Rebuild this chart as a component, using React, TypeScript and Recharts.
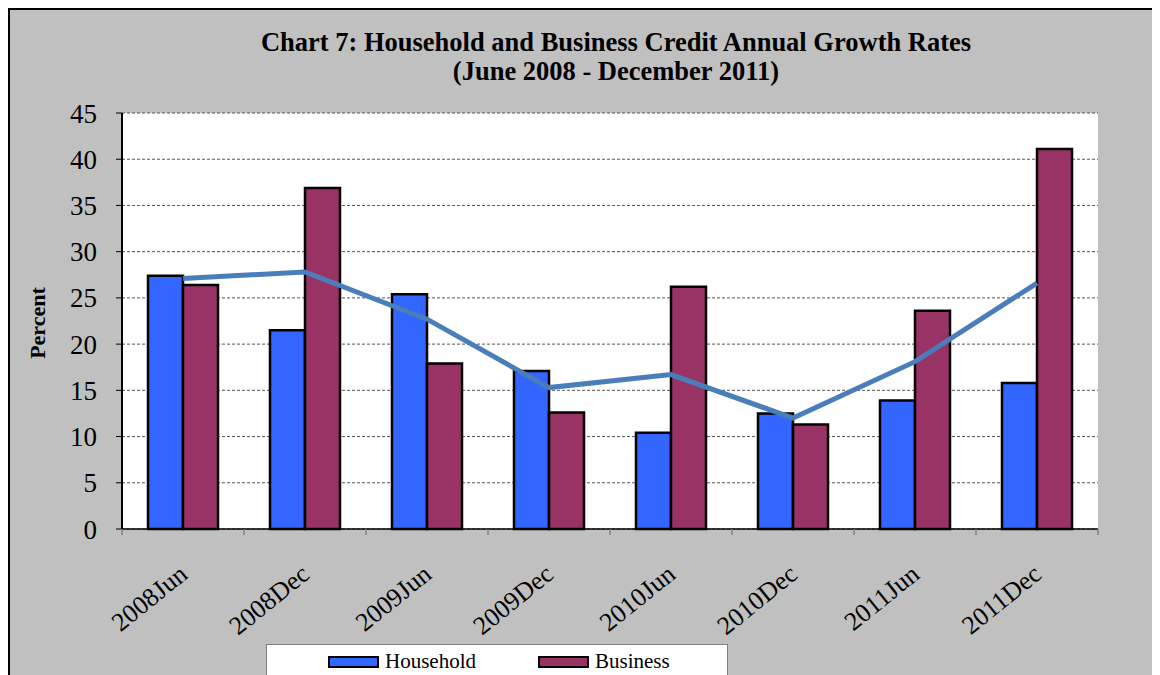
import React from 'react';
import {
  ComposedChart,
  Bar,
  Line,
  XAxis,
  YAxis,
  CartesianGrid,
  Legend,
  Label,
} from 'recharts';

const periods = ['2008Jun', '2008Dec', '2009Jun', '2009Dec', '2010Jun', '2010Dec', '2011Jun', '2011Dec'];
const household = [27.4, 21.5, 25.4, 17.1, 10.4, 12.5, 13.9, 15.8];
const business = [26.4, 36.9, 17.9, 12.6, 26.2, 11.3, 23.6, 41.1];
const trend = [27.1, 27.8, 22.7, 15.3, 16.7, 12.0, 18.1, 26.6];
const yTicks = [0, 5, 10, 15, 20, 25, 30, 35, 40, 45];
const legendOrder = ['household', 'business'];

const FONT = '"Liberation Serif", "Times New Roman", serif';
const HOUSEHOLD_COLOR = '#3366FF';
const BUSINESS_COLOR = '#993366';
const TREND_COLOR = '#4A7EBB';

const data = periods.map((p, i) => ({
  period: p,
  household: household[i],
  business: business[i],
  trend: trend[i],
}));

function XTick(props: any) {
  const { x, y, payload, index } = props;
  const half = payload?.offset ?? 61;
  const last = index === periods.length - 1;
  return (
    <g>
      <line x1={x - half} y1={y} x2={x - half} y2={y + 6} stroke="#808080" strokeWidth={1.5} />
      {last && <line x1={x + half} y1={y} x2={x + half} y2={y + 6} stroke="#808080" strokeWidth={1.5} />}
      <text
        x={x + 6}
        y={y + 48}
        textAnchor="end"
        fontSize={26}
        fontFamily={FONT}
        fill="#000"
        transform={`rotate(-39, ${x + 6}, ${y + 48})`}
      >
        {payload.value}
      </text>
    </g>
  );
}

function LegendBox(props: any) {
  const items = legendOrder
    .map((k) => (props.payload || []).find((e: any) => e.dataKey === k))
    .filter(Boolean);
  return (
    <div
      style={{
        width: 462,
        height: 44,
        background: '#fff',
        border: '1px solid #808080',
        display: 'flex',
        alignItems: 'flex-start',
        paddingLeft: 61,
        boxSizing: 'border-box',
        fontFamily: FONT,
        fontSize: 21,
        color: '#000',
      }}
    >
      {items.map((e: any, i: number) => (
        <div key={i} style={{ display: 'flex', alignItems: 'center', marginRight: i === 0 ? 62 : 0, marginTop: 4 }}>
          <span
            style={{
              display: 'inline-block',
              width: 51,
              height: 12,
              background: e.color,
              border: '2px solid #000',
              boxSizing: 'border-box',
              marginRight: 6,
            }}
          />
          <span>{e.value}</span>
        </div>
      ))}
    </div>
  );
}

function PercentLabel(props: any) {
  const vb = props.viewBox || { x: 0, y: 0, width: 0, height: 0 };
  const cx = vb.x + 29;
  const cy = vb.y + vb.height / 2 + 2;
  return (
    <text
      x={cx}
      y={cy}
      textAnchor="middle"
      dominantBaseline="central"
      fontSize={22}
      fontWeight="bold"
      fontFamily={FONT}
      fill="#000"
      transform={`rotate(-90, ${cx}, ${cy})`}
    >
      Percent
    </text>
  );
}

export default function App() {
  return (
    <div
      style={{
        position: 'relative',
        width: 1152,
        height: 667,
        overflow: 'hidden',
        background: '#C0C0C0',
      }}
    >
      <div
        style={{
          position: 'absolute',
          left: 0,
          top: 0,
          width: '100%',
          textAlign: 'center',
          fontFamily: FONT,
          fontWeight: 'bold',
          fontSize: 26.5,
          lineHeight: '29px',
          paddingTop: 20,
          paddingLeft: 64,
          boxSizing: 'border-box',
          color: '#000',
          zIndex: 2,
        }}
      >
        <div>Chart 7: Household and Business Credit Annual Growth Rates</div>
        <div>(June 2008 - December 2011)</div>
      </div>
      <ComposedChart
        width={1152}
        height={690}
        data={data}
        margin={{ top: 105, right: 62, bottom: 69, left: 0 }}
        barCategoryGap={26}
        barGap={0}
      >
        <CartesianGrid
          horizontal
          vertical={false}
          fill="#fff"
          stroke="#555"
          strokeDasharray="3 2"
        />
        <XAxis
          dataKey="period"
          height={100}
          tickLine={false}
          tickSize={0}
          tickMargin={0}
          axisLine={{ stroke: '#000', strokeWidth: 1.5 }}
          tick={<XTick />}
          interval={0}
        />
        <XAxis xAxisId="top" orientation="top" dataKey="period" height={0} tick={false} tickLine={false} axisLine={{ stroke: '#808080', strokeWidth: 2 }} />
        <YAxis
          domain={[0, 45]}
          ticks={yTicks}
          width={114}
          interval={0}
          tickSize={6}
          tickMargin={19}
          tickLine={{ stroke: '#000' }}
          axisLine={{ stroke: '#000', strokeWidth: 2 }}
          tick={{ fill: '#000', fontSize: 27, fontFamily: FONT }}
        >
          <Label content={<PercentLabel />} />
        </YAxis>
        <YAxis yAxisId="right" orientation="right" width={0} domain={[0, 45]} tick={false} tickLine={false} axisLine={{ stroke: '#808080', strokeWidth: 2 }} />
        <Bar dataKey="household" name="Household" fill={HOUSEHOLD_COLOR} stroke="#000" strokeWidth={2.5} isAnimationActive={false} />
        <Bar dataKey="business" name="Business" fill={BUSINESS_COLOR} stroke="#000" strokeWidth={2.5} isAnimationActive={false} />
        <Line
          dataKey="trend"
          type="linear"
          stroke={TREND_COLOR}
          strokeWidth={5}
          dot={false}
          activeDot={false}
          legendType="none"
          isAnimationActive={false}
        />
        <Legend
          layout="vertical"
          align="center"
          verticalAlign="middle"
          content={<LegendBox />}
          wrapperStyle={{ position: 'absolute', left: 258, top: 636, width: 462 }}
        />
      </ComposedChart>
      <div
        style={{
          position: 'absolute',
          left: 0,
          top: 0,
          width: '100%',
          height: '100%',
          borderTop: '2px solid #000',
          borderLeft: '2px solid #000',
          boxSizing: 'border-box',
          pointerEvents: 'none',
        }}
      />
    </div>
  );
}
